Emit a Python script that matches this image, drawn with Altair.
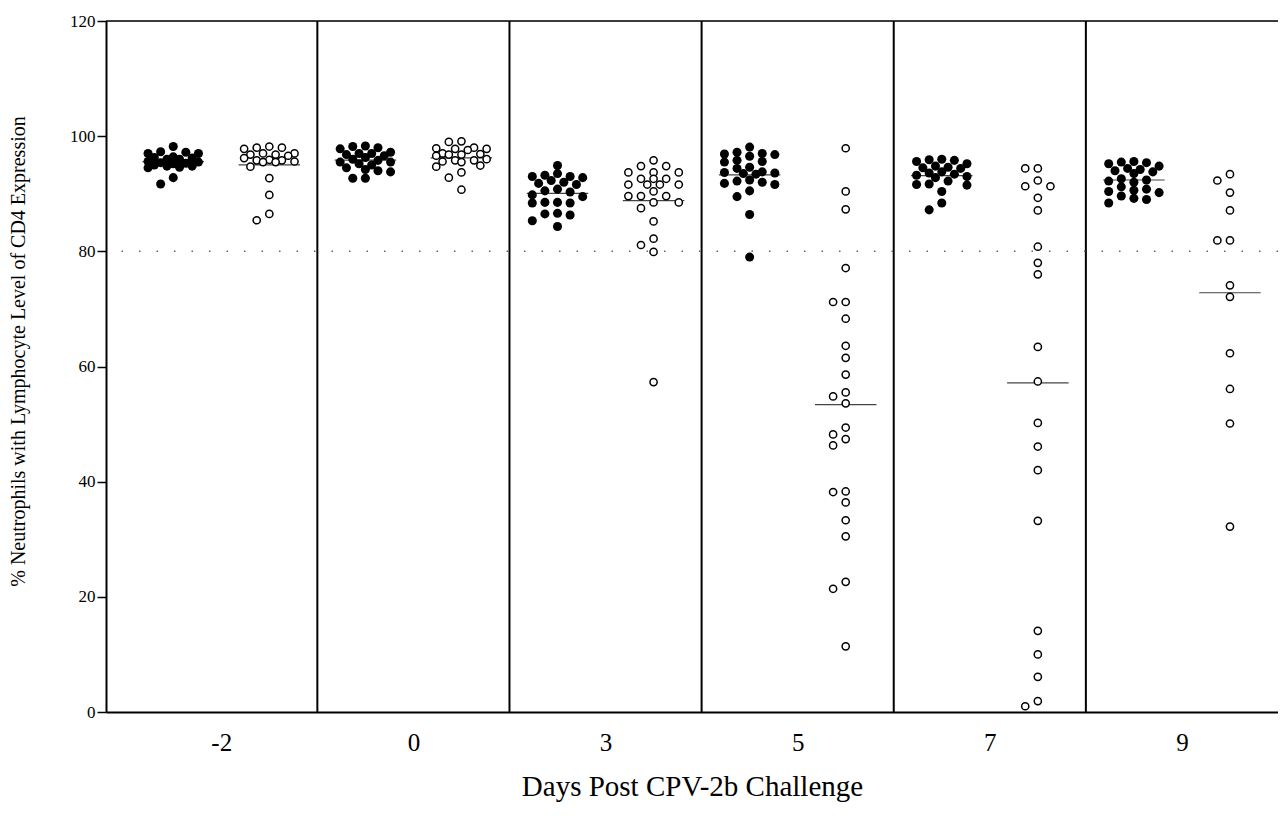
import json
import altair as alt
import pandas as pd

# ---------------- data ----------------
days = ["-2", "0", "3", "5", "7", "9"]

filled_m2 = [98.2, 97.3, 97.2, 97.0, 97.0, 96.4, 96.3, 96.2, 96.0, 96.0, 95.6, 95.5,
             95.4, 95.3, 95.2, 95.0, 94.8, 94.8, 94.6, 94.5, 92.8, 91.7]
open_m2 = [98.2, 98.0, 98.0, 97.8, 97.0, 97.0, 96.8, 96.8, 96.6, 96.2, 95.9, 95.8,
           95.8, 95.6, 95.5, 95.5, 94.7, 92.7, 89.8, 86.5, 85.4]
filled_0 = [98.3, 98.2, 98.0, 97.8, 97.2, 97.0, 97.0, 96.8, 96.6, 96.3, 96.0, 95.8,
            95.5, 95.5, 95.2, 95.0, 94.5, 94.2, 94.0, 93.8, 92.7, 92.7]
open_0 = [99.1, 99.0, 98.0, 97.9, 97.8, 97.8, 97.6, 97.0, 96.9, 96.8, 96.8, 96.6,
          96.0, 95.8, 95.8, 95.6, 95.5, 94.9, 94.7, 93.7, 92.8, 90.7]
filled_3 = [94.9, 93.5, 93.2, 93.0, 93.0, 92.8, 92.3, 92.0, 91.8, 91.6, 90.8, 90.5,
            90.3, 89.8, 89.5, 88.5, 88.5, 88.4, 88.4, 86.6, 86.5, 86.3, 85.3, 84.3]
open_3 = [95.8, 94.8, 94.8, 93.7, 93.7, 93.7, 92.6, 92.6, 92.6, 91.6, 91.6, 91.6,
          91.6, 90.4, 89.6, 89.6, 89.6, 88.5, 88.5, 87.5, 85.2, 82.2, 81.1, 79.9, 57.3]
filled_5 = [98.1, 97.2, 97.0, 96.9, 96.8, 96.5, 95.8, 95.6, 95.5, 94.6, 94.4, 93.8,
            93.7, 93.6, 93.5, 93.4, 92.4, 92.2, 92.0, 91.8, 91.6, 90.5, 89.5, 86.4, 79.0]
open_5 = [97.9, 90.4, 87.3, 77.1, 71.2, 71.2, 68.3, 63.6, 61.5, 58.6, 55.5, 54.8,
          53.6, 49.4, 48.2, 47.4, 46.3, 38.3, 38.2, 36.4, 33.3, 30.5, 22.6, 21.4, 11.4]
filled_7 = [96.0, 95.9, 95.8, 95.6, 95.2, 94.8, 94.6, 94.5, 94.4, 93.8, 93.6, 93.4,
            93.2, 93.0, 92.8, 92.2, 91.7, 91.6, 91.5, 90.4, 88.4, 87.2]
open_7 = [94.4, 94.4, 92.3, 91.3, 91.3, 89.3, 87.1, 80.8, 78.0, 76.0, 63.4, 57.4,
          50.2, 46.1, 42.0, 33.2, 14.1, 10.0, 6.1, 1.9, 1.0]
filled_9 = [95.6, 95.5, 95.4, 95.2, 94.8, 94.4, 94.2, 94.0, 93.8, 93.5, 92.6, 92.4,
            92.2, 92.0, 91.2, 90.8, 90.6, 90.4, 90.2, 89.6, 89.2, 89.0, 88.4]
open_9 = [93.4, 92.3, 90.2, 87.1, 81.9, 81.9, 74.1, 72.1, 62.3, 56.1, 50.1, 32.2]

filled_groups = [filled_m2, filled_0, filled_3, filled_5, filled_7, filled_9]
open_groups = [open_m2, open_0, open_3, open_5, open_7, open_9]

y_ticks = [0, 20, 40, 60, 80, 100, 120]
reference_level = [80]

# ---------------- layout ----------------
W, H = 1172, 691
X_DOM = [-0.6, 5.5]
PX_X = W / (X_DOM[1] - X_DOM[0])
PX_Y = H / 120.0
GROUP_OFF = 0.25
STEP_PX = 12.6
SLOTS = [0, -1, 1, -2, 2, -0.5, 0.5, -1.5, 1.5]


def swarm(values, center, min_d):
    """Simple beeswarm: place dots side by side in columns when they would overlap."""
    placed = []
    res = [None] * len(values)
    order = sorted(range(len(values)), key=lambda i: -values[i])
    for i in order:
        py = values[i] * PX_Y
        chosen, best_s, best_d = None, 0, -1.0
        for s in SLOTS:
            px = s * STEP_PX
            d = min((((px - qx) ** 2 + (py - qy) ** 2) ** 0.5 for qx, qy in placed),
                    default=1e9)
            if d >= min_d:
                chosen = s
                break
            if d > best_d:
                best_d, best_s = d, s
        if chosen is None:
            chosen = best_s
        placed.append((chosen * STEP_PX, py))
        res[i] = center + chosen * STEP_PX / PX_X
    return res


rows = []
for k in range(len(days)):
    for kind, vals, sign, md in (("filled", filled_groups[k], -1, 7.5),
                                 ("open", open_groups[k], 1, 9.0)):
        c = k + sign * GROUP_OFF
        xs = swarm(vals, c, md)
        for v, xp in zip(vals, xs):
            rows.append({"day": k, "kind": kind, "value": v, "xpos": xp, "center": c})
df = pd.DataFrame(rows)

FONT = "Liberation Serif"

x_scale = alt.Scale(domain=X_DOM, nice=False, zero=False)
y_scale = alt.Scale(domain=[0, 120], nice=False)

x_axis = alt.Axis(
    values=list(range(len(days))),
    labelExpr=f"{json.dumps(days)}[datum.value]",
    ticks=False, grid=False,
    domainColor="black", domainWidth=2,
    labelFont=FONT, labelFontSize=25, labelColor="black", labelPadding=18,
    title="Days Post CPV-2b Challenge",
    titleFont=FONT, titleFontSize=29, titleFontWeight="normal", titleColor="black",
    titleY=74, titleBaseline="middle",
)
y_axis = alt.Axis(
    values=y_ticks, grid=False,
    tickSize=9, tickColor="black", tickWidth=1.5,
    domainColor="black", domainWidth=2,
    labelFont=FONT, labelFontSize=17, labelColor="black", labelPadding=2,
    title="% Neutrophils with Lymphocyte Level of CD4 Expression",
    titleFont=FONT, titleFontSize=20, titleFontWeight="normal", titleColor="black",
    titleX=-88, titleY=330, titleAngle=-90, titleAlign="center", titleBaseline="middle",
)

base = alt.Chart(df)

points_base = base.encode(
    x=alt.X("xpos:Q", scale=x_scale, axis=x_axis),
    y=alt.Y("value:Q", scale=y_scale, axis=y_axis),
)

top_line = alt.Chart(pd.DataFrame({"y": [y_ticks[-1]]})).mark_rule(
    color="black", strokeWidth=1.5).encode(y=alt.Y("y:Q", scale=y_scale))

dividers = alt.Chart(pd.DataFrame({"x": [k + 0.5 for k in range(len(days) - 1)]})).mark_rule(
    color="black", strokeWidth=2).encode(x=alt.X("x:Q", scale=x_scale))

ref_line = alt.Chart(pd.DataFrame({"y": reference_level})).mark_rule(
    color="#666", strokeWidth=1.5, strokeDash=[1.5, 16]).encode(y=alt.Y("y:Q", scale=y_scale))

mean_lines = base.transform_aggregate(
    mean_v="mean(value)", groupby=["center"]
).transform_calculate(
    x1="datum.center - 0.16", x2="datum.center + 0.16"
).mark_rule(color="#444", strokeWidth=1.2).encode(
    x=alt.X("x1:Q", scale=x_scale),
    x2="x2:Q",
    y=alt.Y("mean_v:Q", scale=y_scale),
)

filled_pts = points_base.transform_filter(alt.datum.kind == "filled").mark_point(
    shape="circle", filled=True, color="black", size=82, opacity=1)

open_pts = points_base.transform_filter(alt.datum.kind == "open").mark_point(
    shape="circle", filled=True, fill="white", stroke="black", strokeWidth=1.5,
    size=52, opacity=1)

chart = alt.layer(
    points_base.mark_point(opacity=0),
    top_line, dividers, ref_line, mean_lines, filled_pts, open_pts,
).properties(
    width=W, height=H,
    autosize="none",
    padding={"left": 98, "top": 13, "right": 0, "bottom": 96},
).configure_view(stroke=None).configure(background="white")

chart.save("out.html", embed_options={"renderer": "svg", "actions": False})
